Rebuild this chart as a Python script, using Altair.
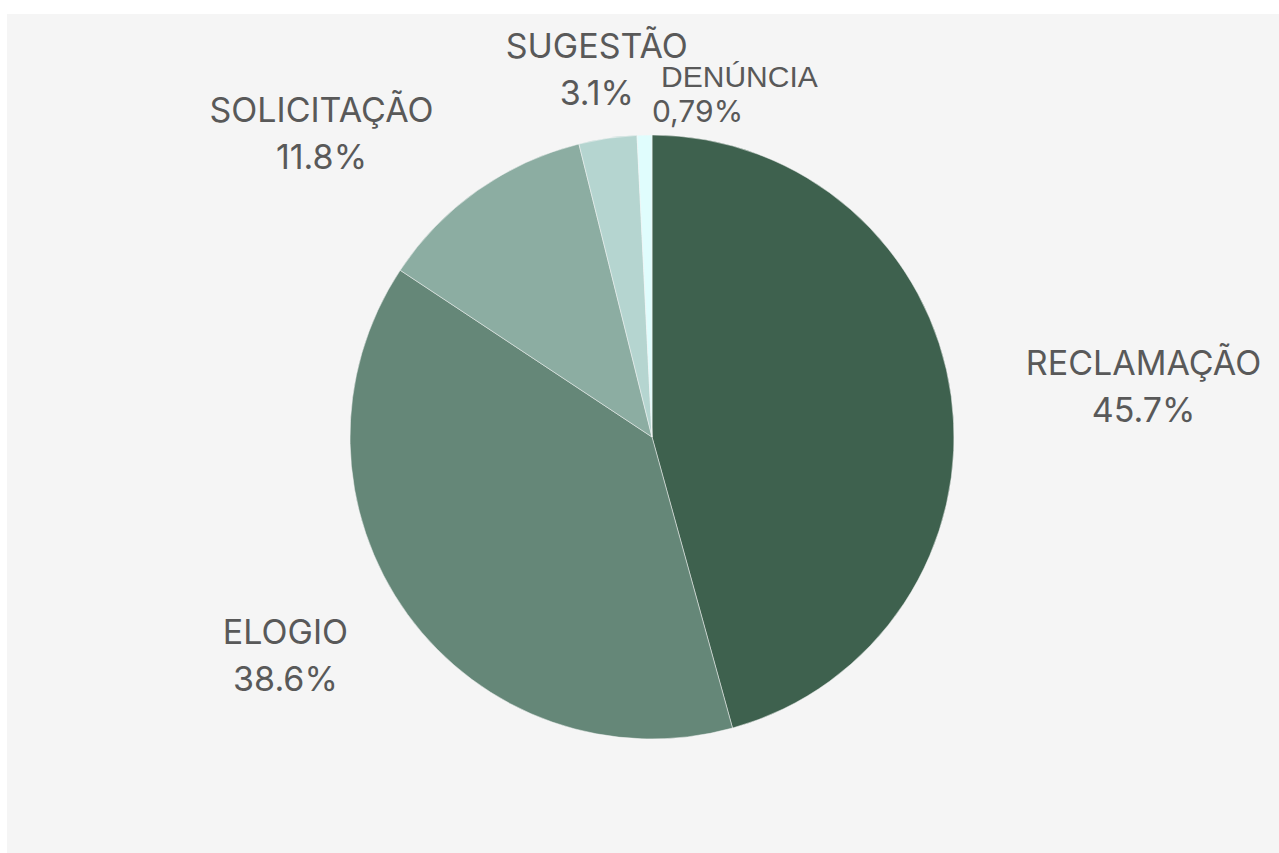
import altair as alt
import pandas as pd

categories = ["RECLAMAÇÃO", "ELOGIO", "SOLICITAÇÃO", "SUGESTÃO", "DENÚNCIA"]
shares = [45.7, 38.6, 11.8, 3.1, 0.79]
pct_labels = ["45.7%", "38.6%", "11.8%", "3.1%", "0,79%"]
colors = ["#3e614e", "#658778", "#8cada2", "#b5d5d0", "#e0fdfd"]

df = pd.DataFrame({"cat": categories, "share": shares, "pct": pct_labels,
                   "idx": list(range(len(categories)))})

CX, CY, R = 645, 423, 302
FONT = "Inter"
FS = 34
TXT = "#595959"

base = alt.Chart(df).encode(
    theta=alt.Theta("share:Q", stack=True),
    order=alt.Order("idx:Q"),
    x=alt.value(CX),
    y=alt.value(CY),
)

pie = base.mark_arc(outerRadius=R, stroke="#f5f5f5", strokeWidth=0.5).encode(
    color=alt.Color("cat:N", scale=alt.Scale(domain=categories, range=colors), legend=None)
)

def label_layer(cat, radius, dx, dy, expr, font=FONT, size=FS, align="center"):
    return base.transform_calculate(
        lab=f"datum.cat == '{cat}' ? {expr} : ''"
    ).mark_text(
        radius=radius, dx=dx, dy=dy, font=font, fontSize=size, color=TXT,
        align=align, baseline="middle", lineBreak="\n", lineHeight=47,
    ).encode(text="lab:N")

two_line = "datum.cat + '\\n' + datum.pct"

layers = [
    pie,
    label_layer("RECLAMAÇÃO", 494, 2, -6, two_line),
    label_layer("ELOGIO", 427, -21, -54, two_line),
    label_layer("SOLICITAÇÃO", 448, -72, 41, two_line),
    label_layer("SUGESTÃO", 370, -1, -23, two_line),
    label_layer("DENÚNCIA", 359, 18, 0, "datum.cat", font="Liberation Sans", size=30, align="left"),
    label_layer("DENÚNCIA", 324, 8, 0, "datum.pct", size=30, align="left"),
]

chart = alt.layer(*layers).properties(
    width=1272,
    height=839,
    padding={"left": 7, "top": 14, "right": 0, "bottom": 0},
    background="white",
    autosize=alt.AutoSizeParams(type="none"),
).configure_view(fill="#f5f5f5", stroke=None)

chart.save("out.html", embed_options={"renderer": "svg", "actions": False})
